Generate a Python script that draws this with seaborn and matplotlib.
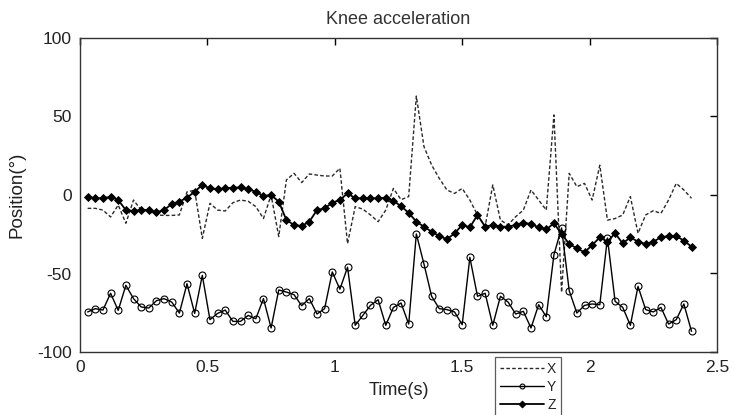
import numpy as np
import matplotlib
matplotlib.use("Agg")
import matplotlib.pyplot as plt
import seaborn as sns

# ---- data ----
sample_step = 0.03          # s, sampling interval of the recording
n_samples = 80
time_s = np.arange(1, n_samples + 1) * sample_step

x_vals = [-8.5, -8.5, -9.6, -14, -6.4, -18, -3.2, -9.6, -10.2, -12.7, -13, -13, -12.7, 2, 3,
          -27.6, -5.3, -9.6, -10.2, -4.9, -3.2,
          -4, -7.4, -15, 0, -26.5, 9.6, 13.8, 7.9, 13.4, 12.7, 12.1, 12.1, 17, -31, -7.4,
          -9, -12.7, -17, -9.6, 4.2, -3,
          -1, 63, 30.8, 19.1, 10.6, 3.2, 1, 4.2, -3.2, -12.7, -20, 6.4, -16, -19, -13.8,
          -9.6, 3.2, -3.2, -9.6, 51, -62,
          13.8, 5.3, 7.4, -3.2, 19, -16, -15, -12.7, -1, -24.4, -12.7, -10, -11.7, -3.2,
          7.4, 3.2, -2.1]

y_vals = [-74.5, -72.4, -73.3, -62.6, -73.5, -57.5, -66, -71.3, -72, -67.3, -66, -68.2,
          -75.2, -56.5, -75.4, -51.2, -79.4, -75.4, -73.3, -80.5, -80.5, -76.7, -78.8, -66,
          -84.7, -60.5, -61.8, -63.5, -70.5, -66, -75.8, -72.4, -49, -60, -46, -83, -76.7,
          -70.3, -66.7, -83, -71.6, -68.8, -82.2, -24.8, -44, -64.5, -72.4, -73, -74.5,
          -82.6, -39.7, -64.5, -62.6, -83, -64.5, -68.2, -75.8, -74.1, -84.7, -69.9, -77.5,
          -38, -21, -61, -75.2, -70.3, -69.4, -69.9, -27.4, -67.7, -71.6, -83, -58.2, -73,
          -74.5, -71.6, -82.2, -79.4, -69.4, -86.9]

z_vals = [-1.1, -2.1, -2.1, -1.1, -3.2, -9.6, -10.2, -9.6, -9.6, -11, -9.6, -5.7, -4.2,
          -1.7, 2.1, 6.4, 4.2, 3.8, 4.2, 4.7,
          4.8, 3.6, 2.1, -0.6, 0, -4.2, -15.9, -19.1, -19.7, -17, -9.6, -8.5, -4.9, -3.2,
          1.1, -2.1, -2.1, -2.1, -2.1, -1.7, -3.6,
          -7.2, -11.3, -17, -20.2, -23.4, -26.1, -28.2, -24.4, -19.1, -20.6, -12.7, -20.2,
          -19.1, -20.2, -20.2, -19.1, -17.6, -18.5, -20.6, -21.9, -18,
          -24.8, -31.2, -34, -36.5, -31.9, -27, -29.7, -24.4, -30.8, -27, -29.7, -31.2,
          -29.7, -27, -26.1, -26.1, -29.1, -32.9]

x_ticks = [0, 0.5, 1, 1.5, 2, 2.5]
x_tick_labels = ["0", "0.5", "1", "1.5", "2", "2.5"]
y_ticks = [-100, -50, 0, 50, 100]
y_tick_labels = ["-100", "-50", "0", "50", "100"]
series_labels = ["X", "Y", "Z"]

# ---- style ----
sns.set_style("white")
plt.rcParams["font.family"] = ["Liberation Sans", "DejaVu Sans"]

fig = plt.figure(figsize=(7.32, 4.15), dpi=100)
ax = fig.add_axes([80 / 732, 1 - 352 / 415, (717 - 80) / 732, (352 - 38) / 415])

sns.lineplot(x=time_s, y=x_vals, ax=ax, color="#2a2a2a", linewidth=1.0,
             linestyle=(0, (2.6, 1.6)), label=series_labels[0])
sns.lineplot(x=time_s, y=y_vals, ax=ax, color="black", linewidth=1.0,
             marker="o", markersize=5, markerfacecolor="none",
             markeredgecolor="black", markeredgewidth=0.8, label=series_labels[1])
sns.lineplot(x=time_s, y=z_vals, ax=ax, color="black", linewidth=1.3,
             marker="D", markersize=4, markerfacecolor="black",
             markeredgecolor="black", markeredgewidth=0.6, label=series_labels[2])

ax.set_xlim(0, 2.5)
ax.set_ylim(-100, 100)
ax.set_xticks(x_ticks)
ax.set_xticklabels(x_tick_labels)
ax.set_yticks(y_ticks)
ax.set_yticklabels(y_tick_labels)
ax.tick_params(direction="in", length=5, width=1, top=True, right=True,
               labelsize=12.5, pad=6, colors="black", labelcolor="#222222")
for s in ax.spines.values():
    s.set_visible(True)
    s.set_color("#333333")
    s.set_linewidth(1.0)

ax.set_title("Knee acceleration", fontsize=13, color="#333333", pad=10)
ax.set_xlabel("Time(s)", fontsize=13, color="#222222", labelpad=5)
ax.set_ylabel("Position(°)", fontsize=13.5, color="#222222", labelpad=8)

handles, labels = ax.get_legend_handles_labels()
ax.get_legend().remove()
leg = fig.legend(handles, labels, loc="upper left",
                 bbox_to_anchor=(495 / 732, 1 - 357 / 415),
                 bbox_transform=fig.transFigure, frameon=True, fancybox=False,
                 edgecolor="#333333", fontsize=10, handlelength=3.2,
                 handletextpad=0.2, borderpad=0.35, labelspacing=0.3,
                 borderaxespad=0, markerfirst=True)
leg.get_frame().set_linewidth(0.9)
for h in leg.legend_handles:
    try:
        h.set_markersize(3.5)
    except Exception:
        pass

fig.savefig("out.png", dpi=100)
